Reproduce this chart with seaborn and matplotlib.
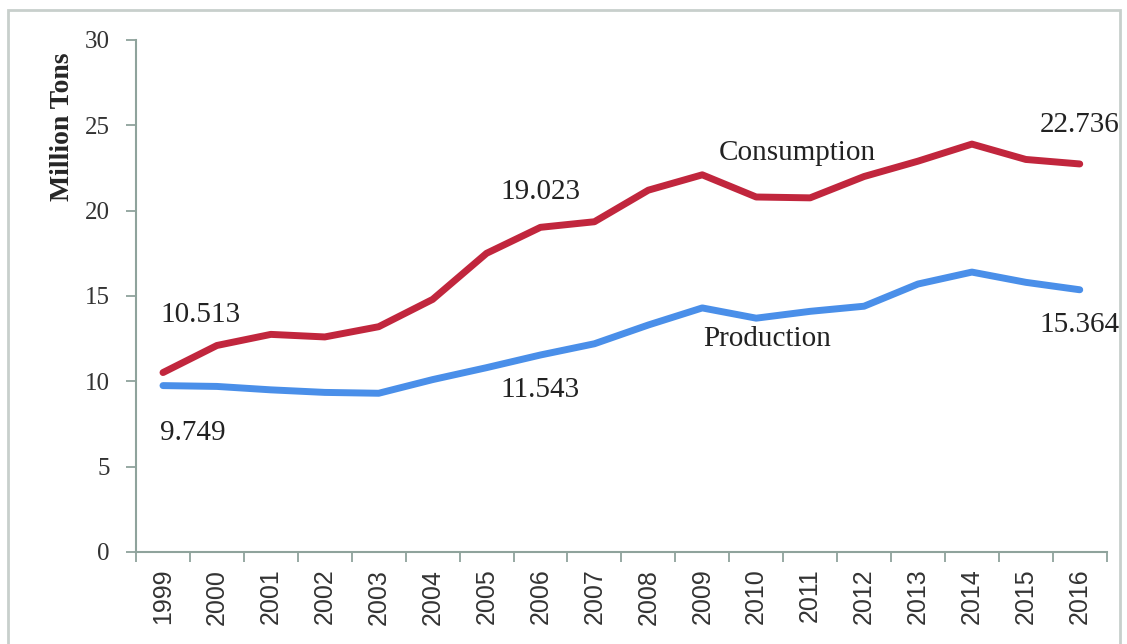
import pandas as pd
import numpy as np
import seaborn as sns
import matplotlib.pyplot as plt
from matplotlib.patches import Rectangle

# values (million tons)
years = ['1999', '2000', '2001', '2002', '2003', '2004', '2005', '2006', '2007',
         '2008', '2009', '2010', '2011', '2012', '2013', '2014', '2015', '2016']
consumption = [10.513, 12.1, 12.75, 12.6, 13.2, 14.8, 17.5, 19.023, 19.35,
               21.2, 22.1, 20.8, 20.75, 22.0, 22.9, 23.9, 23.0, 22.736]
production = [9.749, 9.7, 9.5, 9.35, 9.3, 10.1, 10.8, 11.543, 12.2,
              13.3, 14.3, 13.7, 14.1, 14.4, 15.7, 16.4, 15.8, 15.364]

# long form table for seaborn
idx = np.arange(len(years))
df = pd.concat([
    pd.DataFrame({'pos': idx, 'tons': consumption, 'series': 'Consumption'}),
    pd.DataFrame({'pos': idx, 'tons': production, 'series': 'Production'}),
])

sns.set_style('white')
plt.rcParams['font.family'] = ['Liberation Serif', 'DejaVu Serif']

fig = plt.figure(figsize=(11.27, 6.44), dpi=100)
ax = fig.add_axes([0.1207, 0.1429, 0.8613, 0.795])

sns.lineplot(data=df, x='pos', y='tons', hue='series',
             palette={'Consumption': '#C1263D', 'Production': '#4A8FE9'},
             linewidth=5, legend=False, ax=ax)
for line in ax.get_lines():
    line.set_solid_joinstyle('round')
    line.set_solid_capstyle('round')

axis_col = '#8fa39c'
ax.set_xlim(-0.5, len(years) - 0.5)
ax.set_ylim(0, 30)
ax.set_xticks(idx)
ax.set_xticklabels(years, rotation=90, fontsize=18, family='Liberation Sans',
                   color='#333333')
ax.set_xticks(np.arange(-0.5, len(years)), minor=True)
ax.tick_params(axis='x', which='major', bottom=True, length=0, pad=12)
ax.tick_params(axis='x', which='minor', bottom=True, length=7, color=axis_col,
               width=1.3, direction='out')
ax.set_yticks([0, 5, 10, 15, 20, 25, 30])
ax.tick_params(axis='y', left=True, length=7, color=axis_col, width=1.3,
               direction='out', labelsize=18, labelcolor='#333333', pad=12)
ax.set_xlabel('')
# the axis title sits high up next to the top ticks, not centred
ax.set_ylabel('Million Tons', fontsize=20, fontweight='bold')
ax.yaxis.set_label_coords(-0.063, 0.83)

sns.despine(ax=ax)
for s in ['left', 'bottom']:
    ax.spines[s].set_color(axis_col)
    ax.spines[s].set_linewidth(1.5)

# annotations
txt = dict(fontsize=21, color='#222222')
ax.text(0 - 0.05, 13.9, '10.513', ha='left', va='center', **txt)
ax.text(0 - 0.05, 7.0, '9.749', ha='left', va='center', **txt)
ax.text(7, 21.1, '19.023', ha='center', va='center', **txt)
ax.text(7, 9.5, '11.543', ha='center', va='center', **txt)
ax.text(11.76, 23.4, 'Consumption', ha='center', va='center', **txt)
ax.text(11.2, 12.5, 'Production', ha='center', va='center', **txt)
ax.text(17, 25.0, '22.736', ha='center', va='center', **txt)
ax.text(17.0, 13.3, '15.364', ha='center', va='center', **txt)

# light frame around the whole chart
fig.patches.append(Rectangle((8 / 1127, -0.01), 1112 / 1127, 1 - 10 / 644 + 0.01,
                             transform=fig.transFigure, fill=False,
                             edgecolor='#c8cfcc', linewidth=2))

plt.savefig('out.png', dpi=100)
plt.close()
